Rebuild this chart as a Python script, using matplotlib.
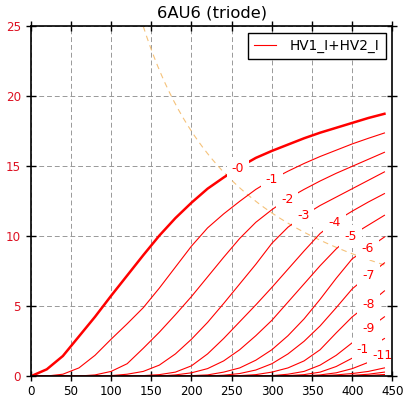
import numpy as np
import matplotlib
matplotlib.use("Agg")
import matplotlib.pyplot as plt

# ---- data (plate voltage in V, current in mA) ----
plate_v = [0, 20, 40, 60, 80, 100, 120, 140, 160, 180, 200, 220,
           240, 260, 280, 300, 320, 340, 360, 380, 400, 420, 440]

ia_g0 = [0, 0.5, 1.45, 2.85, 4.25, 5.75, 7.2, 8.65, 10.05, 11.3, 12.4, 13.4,
         14.2, 14.95, 15.6, 16.1, 16.55, 17.0, 17.4, 17.75, 18.1, 18.45, 18.75]
ia_g1 = [0, 0.02, 0.15, 0.6, 1.5, 2.65, 3.75, 4.9, 6.3, 7.8, 9.3, 10.6,
         11.6, 12.5, 13.35, 14.05, 14.65, 15.2, 15.7, 16.15, 16.6, 17.0, 17.38]
ia_g2 = [0, 0, 0, 0.02, 0.1, 0.35, 0.9, 2.0, 3.15, 4.4, 5.7, 7.1,
         8.5, 9.85, 11.0, 11.9, 12.7, 13.35, 13.95, 14.5, 15.0, 15.5, 16.0]
ia_g3 = [0, 0, 0, 0, 0, 0.05, 0.15, 0.35, 0.8, 1.6, 2.65, 3.85,
         5.2, 6.6, 8.0, 9.5, 10.65, 11.5, 12.2, 12.8, 13.4, 14.0, 14.6]
ia_g4 = [0, 0, 0, 0, 0, 0, 0, 0.05, 0.12, 0.3, 0.75, 1.6,
         2.7, 3.9, 5.1, 6.35, 7.65, 8.95, 10.2, 11.1, 11.8, 12.45, 13.05]
ia_g5 = [0, 0, 0, 0, 0, 0, 0, 0, 0.02, 0.1, 0.25, 0.55,
         1.1, 1.9, 2.9, 4.0, 5.3, 6.6, 7.9, 9.1, 10.1, 10.8, 11.5]
ia_g6 = [0, 0, 0, 0, 0, 0, 0, 0, 0, 0, 0.05, 0.1,
         0.3, 0.6, 1.15, 1.9, 2.9, 4.1, 5.5, 7.0, 8.4, 9.15, 9.95]
ia_g7 = [0, 0, 0, 0, 0, 0, 0, 0, 0, 0, 0, 0.02,
         0.08, 0.2, 0.45, 0.9, 1.6, 2.5, 3.6, 4.9, 6.25, 7.2, 8.1]
ia_g8 = [0, 0, 0, 0, 0, 0, 0, 0, 0, 0, 0, 0,
         0.02, 0.05, 0.12, 0.3, 0.6, 1.1, 1.9, 3.1, 4.25, 5.15, 6.1]
ia_g9 = [0, 0, 0, 0, 0, 0, 0, 0, 0, 0, 0, 0,
         0, 0.01, 0.03, 0.05, 0.15, 0.35, 0.8, 1.5, 2.4, 3.4, 4.25]
ia_g10 = [0, 0, 0, 0, 0, 0, 0, 0, 0, 0, 0, 0,
          0, 0, 0.01, 0.02, 0.05, 0.12, 0.3, 0.7, 1.3, 2.0, 2.7]
ia_g11 = [0, 0, 0, 0, 0, 0, 0, 0, 0, 0, 0, 0,
          0, 0, 0, 0.01, 0.02, 0.03, 0.1, 0.25, 0.55, 1.0, 1.55]
ia_g12 = [0, 0, 0, 0, 0, 0, 0, 0, 0, 0, 0, 0,
          0, 0, 0, 0, 0.01, 0.02, 0.04, 0.1, 0.2, 0.35, 0.6]
ia_g13 = [0, 0, 0, 0, 0, 0, 0, 0, 0, 0, 0, 0,
          0, 0, 0, 0, 0, 0.01, 0.02, 0.03, 0.07, 0.15, 0.3]
ia_g14 = [0, 0, 0, 0, 0, 0, 0, 0, 0, 0, 0, 0,
          0, 0, 0, 0, 0, 0, 0, 0.01, 0.02, 0.06, 0.13]

grid_bias = [0, -1, -2, -3, -4, -5, -6, -7, -8, -9, -10, -11, -12, -13, -14]
curve_list = [ia_g0, ia_g1, ia_g2, ia_g3, ia_g4, ia_g5, ia_g6, ia_g7,
              ia_g8, ia_g9, ia_g10, ia_g11, ia_g12, ia_g13, ia_g14]
curve_labels = ["-0", "-1", "-2", "-3", "-4", "-5", "-6", "-7", "-8",
                "-9", "-10", "-11"]
label_x = [258, 300, 319, 339, 378, 398, 419, 420, 420, 420, 418, 437]

plate_dissipation_w = 3.5
pd_v = np.linspace(140, 440, 200)
pd_i = plate_dissipation_w * 1000.0 / pd_v

x_ticks = [0, 50, 100, 150, 200, 250, 300, 350, 400, 450]
y_ticks = [0, 5, 10, 15, 20, 25]

# ---- figure ----
fig = plt.figure(figsize=(4.06, 3.97), dpi=100)
ax = fig.add_axes([0.0756, 0.0521, 0.8911, 0.8817])

red = "#ff0000"
for i, ia in enumerate(curve_list):
    lw = 1.8 if i == 0 else 0.8
    ax.plot(plate_v, ia, color=red, lw=lw, zorder=3,
            label="HV1_I+HV2_I" if i == 1 else None)

ax.plot(pd_v, pd_i, color="#f5c27a", lw=0.8, ls=(0, (5, 4)), zorder=2.5)

for lab, lx, ia in zip(curve_labels, label_x, curve_list):
    ly = np.interp(lx, plate_v, ia)
    ax.text(lx, ly, lab, color=red, ha="center", va="center", fontsize=9,
            zorder=4, clip_on=True,
            bbox=dict(boxstyle="square,pad=0.4", fc="white", ec="none"))

ax.set_xlim(0, 450)
ax.set_ylim(0, 25)
ax.set_xticks(x_ticks)
ax.set_yticks(y_ticks)
ax.grid(True, color="#999999", ls=(0, (5, 3)), lw=0.7, zorder=1)
ax.set_axisbelow(True)
ax.tick_params(axis="both", direction="inout", length=7, width=1,
               top=True, right=True, labelsize=8.6)
ax.tick_params(axis="x", pad=2.5)
ax.tick_params(axis="y", labelcolor="#dd1122")
for s in ax.spines.values():
    s.set_linewidth(1.2)
    s.set_zorder(5)

ax.set_title("6AU6 (triode)", fontsize=11.8, pad=6)
leg = ax.legend(loc="upper right", fontsize=9.8, fancybox=False,
                edgecolor="black", framealpha=1, handlelength=1.6,
                handletextpad=1.0, borderpad=0.45, borderaxespad=0.5)
leg.get_frame().set_linewidth(1.0)
leg.set_zorder(6)

fig.savefig("out.png", dpi=100)
